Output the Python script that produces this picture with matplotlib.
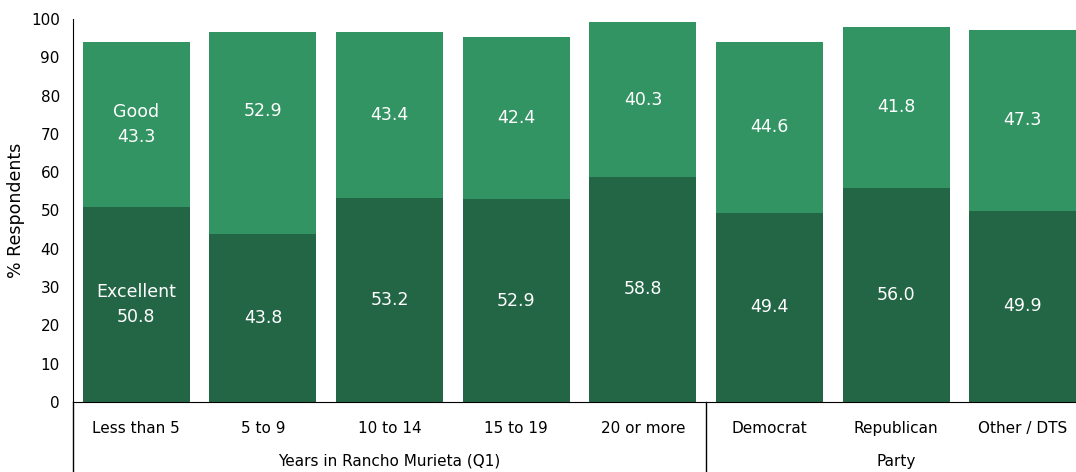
import matplotlib.pyplot as plt
import numpy as np

categories = ['Less than 5', '5 to 9', '10 to 14', '15 to 19', '20 or more',
              'Democrat', 'Republican', 'Other / DTS']
excellent = [50.8, 43.8, 53.2, 52.9, 58.8, 49.4, 56.0, 49.9]
good = [43.3, 52.9, 43.4, 42.4, 40.3, 44.6, 41.8, 47.3]
groups = [('Years in Rancho Murieta (Q1)', 0, 4), ('Party', 5, 7)]

dark = '#236645'
light = '#339463'

fig = plt.figure(figsize=(10.76, 4.72), dpi=100)
ax = fig.add_axes([73 / 1076, 70 / 472, 1003 / 1076, 383 / 472])

x = np.arange(len(categories))
ax.bar(x, excellent, width=0.845, color=dark)
ax.bar(x, good, width=0.845, bottom=excellent, color=light)

# second bar's label sits a little higher in its segment
good_nudge = {1: 5.8}

for i, (e, g) in enumerate(zip(excellent, good)):
    top_txt = f'{g:.1f}'
    bot_txt = f'{e:.1f}'
    if i == 0:
        top_txt = 'Good\n' + top_txt
        bot_txt = 'Excellent\n' + bot_txt
    ax.text(i, e + g / 2 + good_nudge.get(i, 0), top_txt, ha='center',
            va='center', color='white', fontsize=12.5, linespacing=1.5)
    ax.text(i, e / 2, bot_txt, ha='center', va='center', color='white',
            fontsize=12.5, linespacing=1.5)

ax.set_xlim(-0.5, 7.42)
ax.set_ylim(0, 100)
ax.set_yticks(range(0, 101, 10))
ax.tick_params(axis='y', length=0, labelsize=11, pad=9.5)
ax.tick_params(axis='x', length=0, labelsize=11, pad=14)
ax.set_xticks(x)
ax.set_xticklabels(categories)
ax.set_ylabel('% Respondents', fontsize=12.5, labelpad=4)
for s in ['top', 'right']:
    ax.spines[s].set_visible(False)

# group labels and separators under the axis
for name, a, b in groups:
    ax.text((a + b) / 2, -15.5, name, ha='center', va='center', fontsize=11,
            clip_on=False)
ax.plot([-0.5, -0.5], [0, -18.5], color='black', lw=1, clip_on=False)
ax.plot([4.5, 4.5], [0, -18.5], color='black', lw=1, clip_on=False)

fig.savefig('out.png', dpi=100)
